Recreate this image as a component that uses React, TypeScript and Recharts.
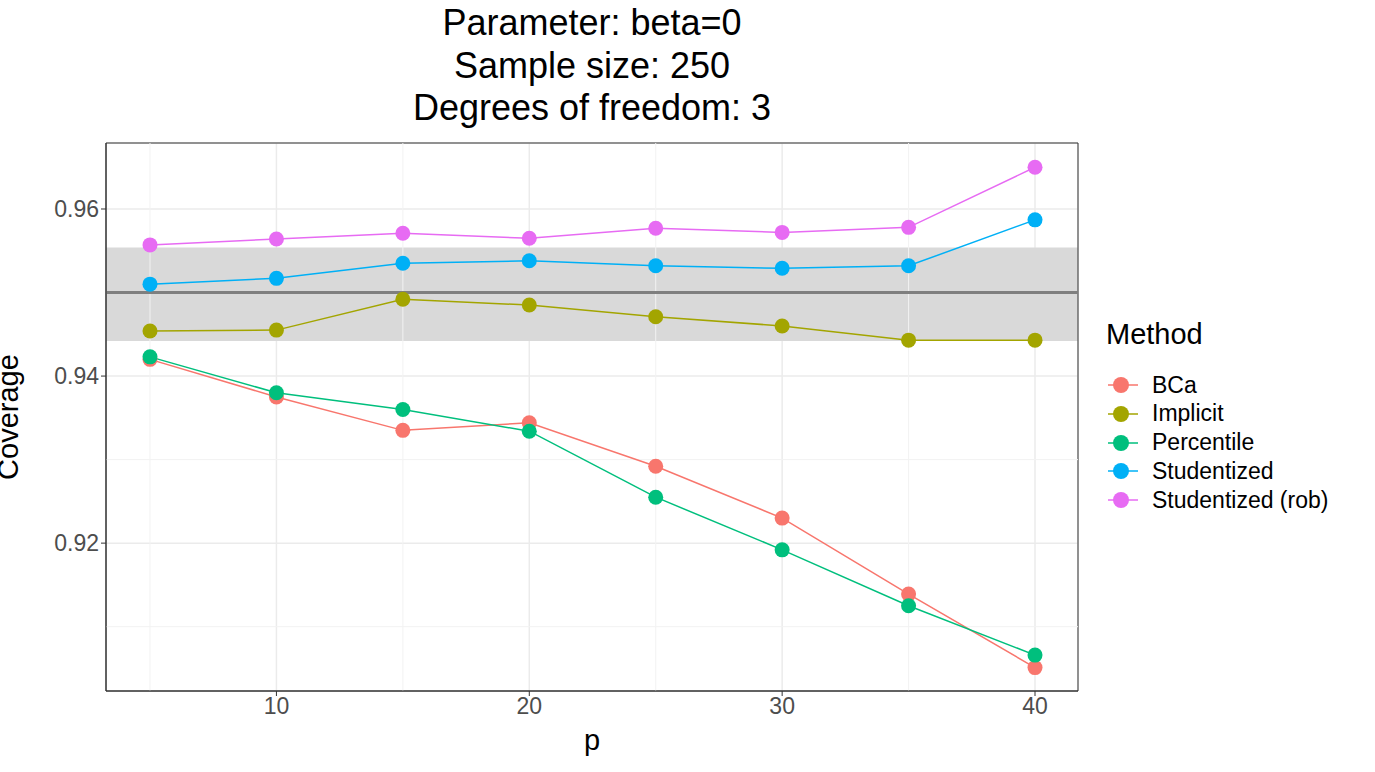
import React from "react";
import { LineChart, Line, XAxis, YAxis, CartesianGrid, ReferenceArea, ReferenceLine, Label } from "recharts";

const pValues = [5, 10, 15, 20, 25, 30, 35, 40];
const bca = [0.942, 0.9375, 0.9335, 0.9344, 0.9292, 0.923, 0.9139, 0.9051];
const implicit = [0.9454, 0.9455, 0.9492, 0.9485, 0.9471, 0.946, 0.9443, 0.9443];
const percentile = [0.9423, 0.938, 0.936, 0.9334, 0.9255, 0.9192, 0.9125, 0.9066];
const studentized = [0.951, 0.9517, 0.9535, 0.9538, 0.9532, 0.9529, 0.9532, 0.9587];
const studentizedRob = [0.9557, 0.9564, 0.9571, 0.9565, 0.9577, 0.9572, 0.9578, 0.965];
const xTicks = [10, 20, 30, 40];
const yTicks = [0.92, 0.94, 0.96];
const xMinor = [5, 15, 25, 35];
const yMinor = [0.91, 0.93, 0.95];
const bandLow = 0.9442;
const bandHigh = 0.9554;
const target = 0.95;

const series = [
  { key: "bca", name: "BCa", color: "#F8766D", values: bca },
  { key: "implicit", name: "Implicit", color: "#A3A500", values: implicit },
  { key: "percentile", name: "Percentile", color: "#00BF7D", values: percentile },
  { key: "studentized", name: "Studentized", color: "#00B0F6", values: studentized },
  { key: "rob", name: "Studentized (rob)", color: "#E76BF3", values: studentizedRob },
];

const data = pValues.map((p, i) => {
  const row: Record<string, number> = { p };
  series.forEach((s) => (row[s.key] = s.values[i]));
  return row;
});

const font = "Liberation Sans, Arial, sans-serif";

export default function App() {
  return (
    <div style={{ position: "absolute", left: 0, top: 0, width: 1375, height: 772, background: "white", fontFamily: font }}>
      <div style={{ position: "absolute", left: 106, width: 972, top: 2, textAlign: "center", fontSize: 36, lineHeight: "42.5px", color: "#000" }}>
        <div>Parameter: beta=0</div>
        <div>Sample size: 250</div>
        <div>Degrees of freedom: 3</div>
      </div>
      <LineChart width={1375} height={772} data={data} margin={{ left: 0, top: 143, right: 297, bottom: 0 }}>
        <ReferenceArea y1={bandLow} y2={bandHigh} fill="#d9d9d9" fillOpacity={1} stroke="none" ifOverflow="hidden" />
        {xMinor.map((x) => <ReferenceLine key={"x" + x} x={x} stroke="#f2f2f2" strokeWidth={1} />)}
        {yMinor.map((y) => <ReferenceLine key={"y" + y} y={y} stroke="#f2f2f2" strokeWidth={1} />)}
        <CartesianGrid stroke="#ebebeb" strokeWidth={1.5} />
        <XAxis type="number" dataKey="p" domain={[3.26, 41.7]} ticks={xTicks} stroke="#333" tickLine={{ stroke: "#333" }}
          tick={{ fill: "#4d4d4d", fontSize: 23, fontFamily: font }} tickSize={5} height={81} allowDataOverflow>
          <Label value="p" position="insideTop" offset={38} style={{ fontSize: 29, fill: "#000", fontFamily: font }} />
        </XAxis>
        <YAxis type="number" domain={[0.9023, 0.9679]} ticks={yTicks} stroke="#333" tickLine={{ stroke: "#333" }}
          tick={{ fill: "#4d4d4d", fontSize: 23, fontFamily: font }} tickSize={5} width={106} allowDataOverflow
          tickFormatter={(v: number) => v.toFixed(2)}>
          <Label value="Coverage" angle={-90} position="insideLeft" offset={8} style={{ fontSize: 29, fill: "#000", fontFamily: font, textAnchor: "middle" }} />
        </YAxis>
        <ReferenceLine y={target} stroke="#7f7f7f" strokeWidth={3} />
        {series.map((s) => (
          <Line key={s.key} dataKey={s.key} name={s.name} stroke={s.color} strokeWidth={1.5} type="linear"
            dot={{ r: 7.5, fill: s.color, stroke: s.color, strokeWidth: 0 }} isAnimationActive={false} />
        ))}
        <ReferenceArea x1={3.26} x2={41.7} y1={0.9023} y2={0.9679} fill="none" stroke="#333" strokeWidth={1} />
      </LineChart>
      <div style={{ position: "absolute", left: 1106, top: 318, fontSize: 29 }}>Method</div>
      {series.map((s, i) => (
        <div key={s.key} style={{ position: "absolute", left: 1108, top: 371 + i * 28.8, height: 28, display: "flex", alignItems: "center" }}>
          <svg width={30} height={28}>
            <line x1={0} x2={30} y1={14} y2={14} stroke={s.color} strokeWidth={1.5} />
            <circle cx={13} cy={14} r={8} fill={s.color} />
          </svg>
          <span style={{ marginLeft: 14, fontSize: 23 }}>{s.name}</span>
        </div>
      ))}
    </div>
  );
}
